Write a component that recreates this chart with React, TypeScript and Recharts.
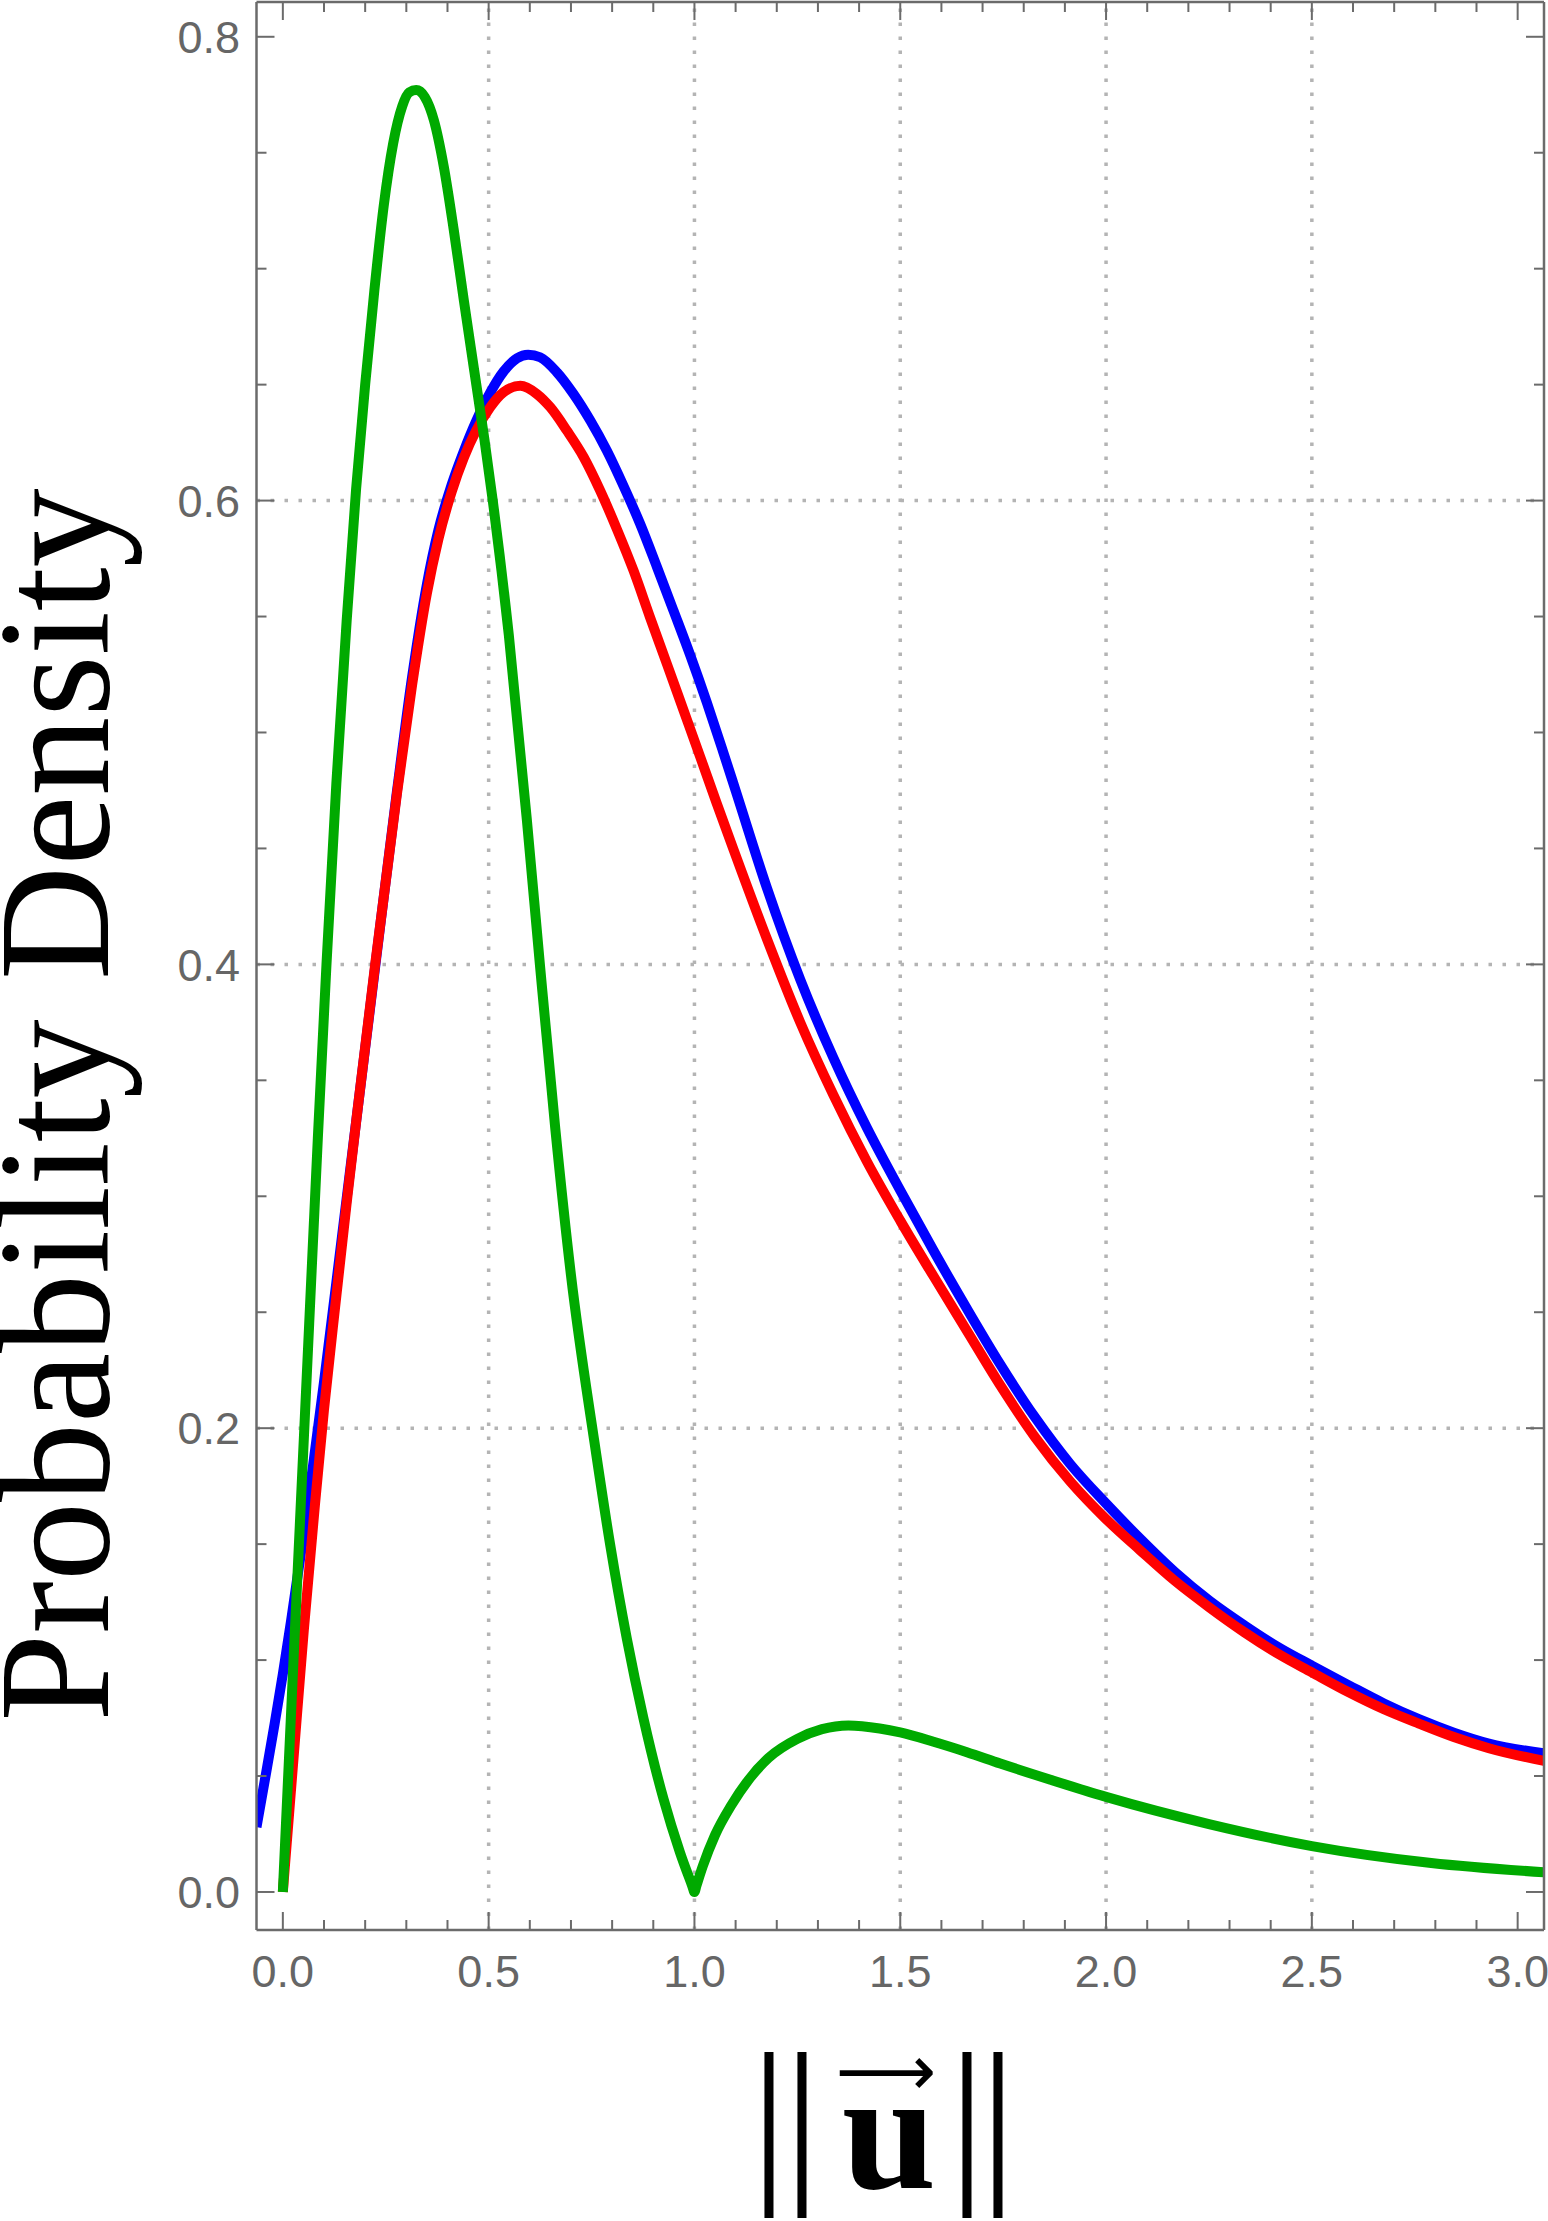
import React from 'react';
import { LineChart, Line, XAxis, YAxis, ReferenceLine } from 'recharts';

// ---------- data ----------
const blueSeries: [number, number][] = [
  [-0.064, 0.028], [-0.04, 0.052], [-0.02, 0.0725], [0.0, 0.094], [0.02, 0.117], [0.043, 0.145],
  [0.075, 0.186], [0.1, 0.22], [0.128, 0.26], [0.155, 0.299], [0.18, 0.335], [0.225, 0.4],
  [0.2775, 0.475], [0.314, 0.5239], [0.35, 0.5639], [0.378, 0.5873], [0.41, 0.6068], [0.44, 0.6215],
  [0.47, 0.6344], [0.504, 0.6466], [0.536, 0.6556], [0.569, 0.6614], [0.596, 0.6629], [0.625, 0.6618],
  [0.666, 0.6553], [0.706, 0.646], [0.747, 0.6345], [0.787, 0.6216], [0.828, 0.6062], [0.868, 0.59],
  [0.909, 0.5713], [0.949, 0.5526], [0.99, 0.5332], [1.03, 0.513], [1.07, 0.4915], [1.1, 0.475],
  [1.176, 0.433], [1.257, 0.3935], [1.338, 0.3595], [1.419, 0.3295], [1.5, 0.3025], [1.581, 0.2765],
  [1.662, 0.2515], [1.743, 0.2275], [1.828, 0.2045], [1.913, 0.1845], [2.0, 0.1675], [2.082, 0.1525],
  [2.167, 0.138], [2.252, 0.1255], [2.336, 0.115], [2.421, 0.1053], [2.5, 0.0976], [2.591, 0.089],
  [2.675, 0.0813], [2.76, 0.0745], [2.845, 0.0687], [2.93, 0.064], [3.064, 0.0598],
];

const redSeries: [number, number][] = [
  [0.0, 0.0], [0.027, 0.06], [0.051, 0.113], [0.078, 0.167], [0.1, 0.208], [0.13, 0.257],
  [0.155, 0.297], [0.18, 0.335], [0.225, 0.401], [0.2775, 0.474], [0.314, 0.5204], [0.35, 0.56],
  [0.378, 0.5834], [0.41, 0.6037], [0.44, 0.6186], [0.47, 0.6303], [0.504, 0.6403], [0.536, 0.6467],
  [0.577, 0.6495], [0.617, 0.646], [0.65, 0.6402], [0.69, 0.6302], [0.731, 0.6187], [0.771, 0.6043],
  [0.812, 0.5875], [0.852, 0.5698], [0.892, 0.5497], [0.933, 0.5296], [0.973, 0.5098], [1.014, 0.4895],
  [1.054, 0.4695], [1.095, 0.4495], [1.176, 0.411], [1.257, 0.375], [1.338, 0.3435], [1.419, 0.315],
  [1.5, 0.2895], [1.581, 0.2655], [1.662, 0.242], [1.743, 0.2185], [1.828, 0.196], [1.913, 0.177],
  [2.0, 0.1608], [2.082, 0.1475], [2.167, 0.1342], [2.252, 0.1226], [2.336, 0.112], [2.421, 0.1024],
  [2.5, 0.0947], [2.591, 0.086], [2.675, 0.0788], [2.76, 0.0726], [2.845, 0.0668], [2.93, 0.062],
  [3.064, 0.0565],
];

const greenSeries: [number, number][] = [
  [0.0, 0.0], [0.022, 0.085], [0.043, 0.165], [0.064, 0.245], [0.085, 0.325], [0.106, 0.4],
  [0.13, 0.478], [0.155, 0.548], [0.178, 0.605], [0.2, 0.65], [0.222, 0.69], [0.245, 0.727],
  [0.268, 0.754], [0.29, 0.77], [0.307, 0.776], [0.324, 0.777], [0.345, 0.774], [0.367, 0.764],
  [0.391, 0.744], [0.415, 0.717], [0.44, 0.686], [0.465, 0.656], [0.49, 0.626], [0.51, 0.6],
  [0.549, 0.542], [0.593, 0.462], [0.625, 0.399], [0.662, 0.329], [0.7, 0.266], [0.757, 0.194],
  [0.795, 0.15], [0.836, 0.109], [0.876, 0.075], [0.925, 0.04], [0.965, 0.017], [0.995, 0.0024],
  [1.0, 0.0], [1.005, 0.0028], [1.02, 0.011], [1.05, 0.0245], [1.09, 0.0375], [1.13, 0.048],
  [1.18, 0.0578], [1.25, 0.066], [1.31, 0.0702], [1.374, 0.0718], [1.45, 0.0705], [1.5, 0.0688],
  [1.581, 0.0648], [1.662, 0.0603], [1.743, 0.0554], [1.865, 0.0484], [2.0, 0.041], [2.25, 0.0293],
  [2.5, 0.0198], [2.79, 0.0125], [3.064, 0.0085],
];

const xTicks = [0, 0.1, 0.2, 0.3, 0.4, 0.5, 0.6, 0.7, 0.8, 0.9, 1.0, 1.1, 1.2, 1.3, 1.4, 1.5, 1.6, 1.7, 1.8, 1.9, 2.0, 2.1, 2.2, 2.3, 2.4, 2.5, 2.6, 2.7, 2.8, 2.9, 3.0];
const xMajor = [0, 0.5, 1.0, 1.5, 2.0, 2.5, 3.0];
const xTickLabels = ['0.0', '0.5', '1.0', '1.5', '2.0', '2.5', '3.0'];
const yTicks = [0, 0.05, 0.1, 0.15, 0.2, 0.25, 0.3, 0.35, 0.4, 0.45, 0.5, 0.55, 0.6, 0.65, 0.7, 0.75, 0.8];
const yMajor = [0, 0.2, 0.4, 0.6, 0.8];
const yTickLabels = ['0.0', '0.2', '0.4', '0.6', '0.8'];
const gridX = [0.5, 1.0, 1.5, 2.0, 2.5];
const gridY = [0.2, 0.4, 0.6];
const xDomain: [number, number] = [-0.064, 3.064];
const yDomain: [number, number] = [-0.0164, 0.815];

const toPoints = (s: [number, number][]) => s.map(([x, y]) => ({ x, y }));
const blueData = toPoints(blueSeries);
const redData = toPoints(redSeries);
const greenData = toPoints(greenSeries);

// ---------- styling ----------
const AXIS = '#6b6b6b';
const LABEL = '#666666';
const TICK_FONT = "'Liberation Sans', Arial, Helvetica, sans-serif";
const SERIF = "'Liberation Serif', 'Times New Roman', serif";
const MAJOR = 18;
const MINOR = 10;
const LINE_W = 10;

const idxOf = (arr: number[], v: number) => arr.findIndex((m) => Math.abs(m - v) < 1e-6);

const BottomTick = (props: any) => {
  const { x, y, payload } = props;
  const i = idxOf(xMajor, payload.value);
  const len = i >= 0 ? MAJOR : MINOR;
  return (
    <g>
      <line x1={x} x2={x} y1={y} y2={y - len} stroke={AXIS} strokeWidth={2} />
      {i >= 0 && (
        <text x={x} y={y + 57} textAnchor="middle" fontFamily={TICK_FONT} fontSize={45} fill={LABEL}>
          {xTickLabels[i]}
        </text>
      )}
    </g>
  );
};

const TopTick = (props: any) => {
  const { x, y, payload } = props;
  const len = idxOf(xMajor, payload.value) >= 0 ? MAJOR : MINOR;
  return <line x1={x} x2={x} y1={y} y2={y + len} stroke={AXIS} strokeWidth={2} />;
};

const LeftTick = (props: any) => {
  const { x, y, payload } = props;
  const i = idxOf(yMajor, payload.value);
  const len = i >= 0 ? MAJOR : MINOR;
  return (
    <g>
      <line x1={x} x2={x + len} y1={y} y2={y} stroke={AXIS} strokeWidth={2} />
      {i >= 0 && (
        <text x={x - 16.5} y={y} dy="0.36em" textAnchor="end" fontFamily={TICK_FONT} fontSize={45} fill={LABEL}>
          {yTickLabels[i]}
        </text>
      )}
    </g>
  );
};

const RightTick = (props: any) => {
  const { x, y, payload } = props;
  const len = idxOf(yMajor, payload.value) >= 0 ? MAJOR : MINOR;
  return <line x1={x} x2={x - len} y1={y} y2={y} stroke={AXIS} strokeWidth={2} />;
};

const YTitle = () => (
  <text
    x={108}
    y={1105}
    transform="rotate(-90 108 1105)"
    textAnchor="middle"
    fontFamily={SERIF}
    fontSize={158}
    fill="#000"
  >
    Probability Density
  </text>
);

const XTitle = () => (
  <text fontFamily={SERIF} fill="#000">
    <tspan x={769} y={2179} textAnchor="middle" fontSize={182}>|</tspan>
    <tspan x={802} y={2179} textAnchor="middle" fontSize={182}>|</tspan>
    <tspan x={889} y={2188} textAnchor="middle" fontWeight="bold" fontSize={170}>u</tspan>
    <tspan x={886} y={2095} textAnchor="middle" fontFamily="'DejaVu Sans', sans-serif" fontSize={70}>⟶</tspan>
    <tspan x={967} y={2179} textAnchor="middle" fontSize={182}>|</tspan>
    <tspan x={998} y={2179} textAnchor="middle" fontSize={182}>|</tspan>
  </text>
);

export default function App() {
  return (
    <div style={{ position: 'absolute', left: 0, top: 0, width: 1548, height: 2221, background: '#fff' }}>
      <LineChart width={1548} height={2221} margin={{ top: 0, right: 0, bottom: 0, left: 0 }}>
        <XAxis
          dataKey="x"
          type="number"
          domain={xDomain}
          allowDataOverflow
          ticks={xTicks}
          interval={0}
          orientation="bottom"
          height={291}
          tickSize={0}
          tickMargin={0}
          tickLine={false}
          axisLine={{ stroke: AXIS, strokeWidth: 2.5 }}
          tick={BottomTick}
          label={<XTitle />}
        />
        <XAxis
          xAxisId="top"
          dataKey="x"
          type="number"
          domain={xDomain}
          allowDataOverflow
          ticks={xTicks}
          interval={0}
          orientation="top"
          height={2}
          tickSize={0}
          tickMargin={0}
          tickLine={false}
          axisLine={{ stroke: AXIS, strokeWidth: 2.5 }}
          tick={TopTick}
        />
        <YAxis
          type="number"
          domain={yDomain}
          allowDataOverflow
          ticks={yTicks}
          interval={0}
          orientation="left"
          width={256.5}
          tickSize={0}
          tickMargin={0}
          tickLine={false}
          axisLine={{ stroke: AXIS, strokeWidth: 2.5 }}
          tick={LeftTick}
          label={<YTitle />}
        />
        <YAxis
          yAxisId="right"
          type="number"
          domain={yDomain}
          allowDataOverflow
          ticks={yTicks}
          interval={0}
          orientation="right"
          width={4}
          tickSize={0}
          tickMargin={0}
          tickLine={false}
          axisLine={{ stroke: AXIS, strokeWidth: 2.5 }}
          tick={RightTick}
        />
        {gridX.map((v) => (
          <ReferenceLine key={`gx${v}`} x={v} stroke="#b4b4b4" strokeWidth={3.5} strokeDasharray="3.5 10.5" />
        ))}
        {gridY.map((v) => (
          <ReferenceLine key={`gy${v}`} y={v} stroke="#b4b4b4" strokeWidth={3.5} strokeDasharray="3.5 10.5" />
        ))}
        <Line data={blueData} dataKey="y" type="monotone" stroke="#0000ff" strokeWidth={LINE_W} dot={false} isAnimationActive={false} />
        <Line data={redData} dataKey="y" type="monotone" stroke="#ff0000" strokeWidth={LINE_W} dot={false} isAnimationActive={false} />
        <Line data={greenData} dataKey="y" type="monotone" stroke="#00aa00" strokeWidth={LINE_W} dot={false} isAnimationActive={false} />
      </LineChart>
    </div>
  );
}
